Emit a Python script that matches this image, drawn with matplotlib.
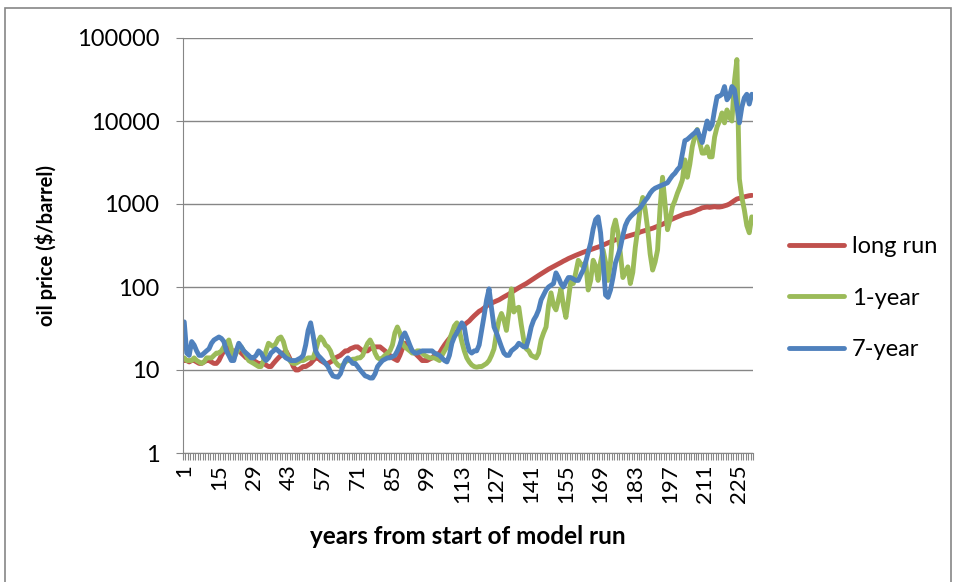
import matplotlib
matplotlib.use("Agg")
import matplotlib.pyplot as plt
from matplotlib.patches import Rectangle
from matplotlib.ticker import FixedLocator, NullFormatter

# values (oil price, $/barrel), one per model year
long_run = [
    13, 13, 12.5, 13, 13, 12.5, 12, 12, 12.5, 13,
    13, 12.5, 12, 12, 13, 15, 17, 19, 18, 17,
    17, 17, 18, 16, 15, 14, 14, 13, 13, 12.5,
    12, 12, 12, 11.5, 11, 11, 12, 13, 14, 15,
    16, 17, 15, 13, 11, 10, 10, 10.5, 11, 11,
    11.5, 12, 13, 14, 14, 13, 12.5, 12, 12, 12.5,
    13, 14, 14.5, 15, 16, 17, 17, 18, 18.5, 19,
    19, 18, 17, 17, 17, 18, 18.5, 19, 19, 19,
    18, 17, 16, 15, 14, 13.5, 13, 15, 18, 21,
    20, 18, 17, 16, 15, 14, 13, 13, 13, 13.5,
    14, 15, 15.5, 16, 18, 20, 22, 24, 26, 28,
    29, 31, 33, 35, 37, 39, 42, 45, 48, 51,
    53, 56, 59, 62, 64, 66, 68, 70, 73, 76,
    79, 82, 86, 90, 94, 98, 102, 106, 110, 115,
    120, 126, 132, 138, 144, 150, 157, 164, 170, 176,
    183, 190, 197, 205, 212, 220, 227, 234, 241, 248,
    255, 262, 268, 275, 282, 289, 296, 303, 310, 320,
    330, 340, 350, 360, 370, 378, 386, 394, 402, 410,
    418, 426, 435, 445, 460, 470, 480, 490, 500, 510,
    525, 540, 555, 570, 590, 620, 640, 660, 680, 700,
    720, 740, 760, 770, 780, 800, 820, 850, 870, 900,
    910, 920, 910, 920, 930, 920, 920, 930, 950, 970,
    1000, 1050, 1100, 1150, 1170, 1200, 1220, 1240, 1260, 1270,
]

one_year = [
    14, 13, 13, 13, 14, 13, 12.5, 12, 12.5, 14,
    14, 14, 15, 16, 16, 17, 19, 21, 23, 18,
    14, 16, 18, 19, 17, 15, 13, 12.5, 12, 11.5,
    11, 11, 13, 17, 21, 20, 19, 21, 24, 25,
    22, 17, 14, 12.5, 12, 12, 12.5, 13, 13, 13.5,
    14, 14, 14, 17, 22, 25, 23, 20, 19, 17,
    14, 12.5, 11.5, 11, 11.5, 12.5, 13, 13, 13.5, 13.5,
    14, 14, 15, 18, 21, 23, 20, 16, 14, 13.5,
    14, 15, 16, 17, 20, 28, 33, 28, 21, 19,
    18, 17, 16, 16, 17, 17, 16, 15, 14.5, 14,
    14, 14, 13.5, 13, 15, 17, 19, 23, 28, 34,
    37, 30, 22, 17, 14, 12.5, 11.5, 11, 10.8, 11,
    11, 11.5, 12, 13, 15, 18, 28, 40, 48, 40,
    30, 50, 95, 50, 55, 57, 35, 23, 18, 17,
    15, 14.5, 14, 16, 23, 28, 33, 60, 85, 60,
    53, 70, 95, 60, 43, 70, 120, 110, 150, 210,
    190, 175, 200, 92, 120, 210, 180, 120, 200, 280,
    200, 120, 200, 500, 640, 450, 250, 130, 150, 175,
    110, 150, 300, 500, 900, 1200, 850, 500, 250, 160,
    200, 280, 900, 2100, 1000, 490, 650, 930, 1100, 1350,
    1600, 1950, 3400, 2100, 3000, 4900, 6500, 7900, 5500, 4100,
    4100, 4900, 3700, 3700, 6400, 8500, 10000, 12500, 9500, 13600,
    11000, 10000, 30000, 55000, 2000, 1200, 850, 550, 450, 700,
]

seven_year = [
    38, 16, 15, 22, 20, 17, 15, 15, 16, 17,
    18, 21, 23, 24, 25, 24, 22, 17, 15, 13,
    13, 17, 21, 19, 17, 16, 15, 14, 14, 15,
    17, 16, 14, 13, 14, 16, 17, 18, 17, 16,
    15, 14, 13.5, 13, 13, 13, 13.5, 14, 15, 20,
    30, 37, 26, 17, 15, 14, 13, 12, 11, 9.5,
    8.5, 8.3, 8.2, 9, 11, 13, 14, 13, 12, 12,
    11, 10, 9.2, 8.5, 8.3, 8, 8, 9, 11, 12,
    13, 13.5, 14, 14, 14.5, 15, 17, 20, 25, 28,
    24, 20, 17, 16, 16, 16.5, 17, 17, 17, 17,
    17, 16, 15.5, 15, 14, 13, 12.5, 15, 21, 25,
    28, 32, 37, 33, 22, 17, 16, 17, 17, 20,
    30, 45, 70, 95, 55, 33, 28, 23, 19, 16,
    15, 15, 17, 18, 19, 21, 20, 19, 19, 24,
    33, 40, 45, 53, 70, 80, 92, 100, 105, 110,
    148, 130, 110, 100, 115, 130, 130, 125, 120, 120,
    140, 160, 200, 260, 340, 500, 650, 700, 450, 200,
    80, 75, 92, 130, 195, 240, 300, 420, 550, 640,
    700, 750, 800, 850, 900, 1000, 1100, 1200, 1350, 1470,
    1550, 1600, 1650, 1700, 1750, 1800, 2000, 2200, 2350, 2600,
    2800, 4000, 5800, 6000, 6400, 6800, 7200, 7800, 6500, 5500,
    7500, 10000, 8000, 9000, 13600, 19600, 20000, 21000, 26000, 18000,
    20000, 26000, 24000, 15000, 9500, 14700, 19000, 21000, 16000, 21000,
]

years = list(range(1, len(long_run) + 1))
year_labels = list(range(1, len(years) + 1, 14))
y_ticks = [1, 10, 100, 1000, 10000, 100000]

plt.rcParams['font.family'] = ['Lato', 'DejaVu Sans']

fig = plt.figure(figsize=(9.55, 5.82), dpi=100)
ax = fig.add_axes([183 / 955, 1 - 453 / 582, 570 / 955, 415 / 582])

grey = '#868686'
ax.plot(years, long_run, color='#C0504D', lw=3.5, label='long run', solid_capstyle='round')
ax.plot(years, one_year, color='#9BBB59', lw=3.5, label='1-year', solid_capstyle='round')
ax.plot(years, seven_year, color='#4F81BD', lw=3.5, label='7-year', solid_capstyle='round')

ax.set_yscale('log')
ax.set_ylim(1, 100000)
ax.set_yticks(y_ticks)
ax.set_yticklabels([str(v) for v in y_ticks], fontsize=17)
ax.yaxis.set_minor_locator(FixedLocator([]))
ax.grid(axis='y', color=grey, lw=1)
ax.set_axisbelow(True)

ax.set_xlim(0.5, len(years) + 0.5)
ax.set_xticks(year_labels)
ax.set_xticklabels([str(v) for v in year_labels], rotation=90, fontsize=16)
ax.xaxis.set_minor_locator(FixedLocator([k + 0.5 for k in range(0, len(years) + 1)]))
ax.xaxis.set_minor_formatter(NullFormatter())
ax.tick_params(axis='x', which='major', length=0, pad=8)
ax.tick_params(axis='x', which='minor', length=5, color=grey, width=0.8)
ax.tick_params(axis='y', which='major', length=5, color=grey, pad=12)

for side in ['top', 'right']:
    ax.spines[side].set_visible(False)
for side in ['left', 'bottom']:
    ax.spines[side].set_color(grey)

ax.set_ylabel('oil price ($/barrel)', fontsize=14.5, fontweight='bold', labelpad=14)
ax.set_xlabel('years from start of model run', fontsize=17.5, fontweight='bold', labelpad=16)

fig.legend(loc='upper left', bbox_to_anchor=(789 / 955, 1 - 236 / 582), frameon=False,
           fontsize=17, handlelength=2.35, handletextpad=0.3, labelspacing=1.3,
           borderpad=0, borderaxespad=0)

fig.patches.append(Rectangle((5 / 955, -0.05), 946 / 955, 1.05 - 8 / 582,
                             transform=fig.transFigure, fill=False, ec=grey, lw=1.2))

fig.savefig('out.png', dpi=100)
